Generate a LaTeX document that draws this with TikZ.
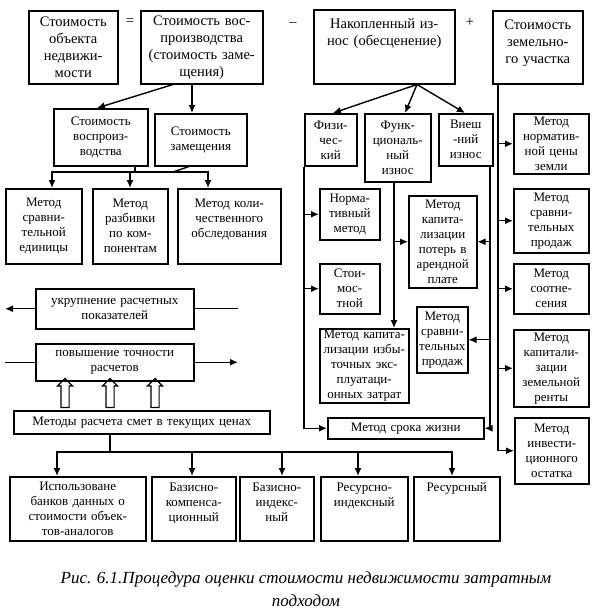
\documentclass[tikz,border=0pt]{standalone}
\usepackage{fontspec}
\setmainfont{Liberation Serif}
\usetikzlibrary{arrows.meta,shapes.arrows}

\begin{document}
\begin{tikzpicture}[x=1pt,y=-1pt,>={Latex[length=8pt,width=7pt]},
  box/.style={draw, line width=1.5pt, inner xsep=2pt, inner ysep=1pt, anchor=north west, align=center, font=\fontsize{13}{15}\selectfont},
  big/.style={font=\fontsize{14.5}{17}\selectfont},
  ttop/.style 2 args={text height=#1, text depth=#2},
  line/.style={line width=1.4pt},
  hollow/.style={single arrow, draw, line width=1.2pt, rotate=90, minimum height=29pt, inner sep=3.5pt, single arrow head extend=3.5pt}]
  \useasboundingbox (0,0) rectangle (604,616);

  % top row
  \node[box,big,text width=85pt,minimum height=73pt] (obj) at (28,10) {Стоимость\\объекта\\недвижи-\\мости};
  \node[box,big,text width=118pt,minimum height=73pt] (vosp) at (140,10) {Стоимость вос-\\производства\\(стоимость заме-\\щения)};
  \node[box,big,text width=137pt,ttop={18pt}{54pt}] (iznos) at (313,9) {Накопленный из-\\нос (обесценение)};
  \node[box,big,text width=86pt,ttop={18pt}{53pt}] (zem) at (492,10) {Стоимость\\земельно-\\го участка};
  \node[big] (opeq) at (130,22) {=};
  \node[big] (opmin) at (293,25) {–};
  \node[big] (opplus) at (470,22) {+};

  % left branch
  \node[box,text width=90pt,minimum height=57pt] (vospr) at (53,108) {Стоимость\\воспроиз-\\водства};
  \node[box,text width=88pt,minimum height=52pt] (zam) at (154,113) {Стоимость\\замещения};
  \node[box,text width=72pt,minimum height=75pt] (m1) at (5,188) {Метод\\сравни-\\тельной\\единицы};
  \node[box,text width=71pt,minimum height=75pt] (m2) at (92,188) {Метод\\разбивки\\по ком-\\понентам};
  \node[box,text width=99pt,ttop={18pt}{55pt}] (m3) at (177,188) {Метод коли-\\чественного\\обследования};

  \draw[line,->] (vosp.south -| 173,0) -- (vospr.north -| 97,0);
  \draw[line,->] (vosp.south -| 192,0) -- (zam.north -| 192,0);
  \coordinate (bus1) at (135,172);
  \draw[line] (vospr.south -| bus1) -- (bus1);
  \draw[line] (zam.south -| 189,0) -- (173,172);
  \foreach \m/\x in {m1/52, m2/130, m3/208}
    \draw[line,->] (bus1) -| (\m.north -| \x,0);

  % estimates
  \coordinate (lft) at (5,0);
  \coordinate (rgt) at (238,0);
  \node[box,text width=154pt,minimum height=40pt] (ukr) at (35,288) {укрупнение расчетных\\показателей};
  \node[box,text width=154pt,minimum height=37pt] (pov) at (35,343) {повышение точности\\расчетов};
  \node[box,text width=252pt,minimum height=23pt] (metody) at (13,410) {Методы расчета смет в текущих ценах};
  \draw[line,<-] (ukr.west -| lft) -- (ukr.west);
  \draw[line] (ukr.east) -- (ukr.east -| rgt);
  \draw[line] (pov.west -| lft) -- (pov.west);
  \draw[line,->] (pov.east) -- (pov.east -| rgt);
  \foreach \x [count=\i] in {65,110,155}
    \node[hollow] (h\i) at (\x,395) {};

  \node[box,text width=132pt,minimum height=64pt] (b1) at (9,476) {Использоване\\банков данных о\\стоимости объек-\\тов-аналогов};
  \node[box,text width=80pt,ttop={14pt}{48pt}] (b2) at (151,476) {Базисно-\\компенса-\\ционный};
  \node[box,text width=70pt,ttop={14pt}{48pt}] (b3) at (239,476) {Базисно-\\индекс-\\ный};
  \node[box,text width=83pt,ttop={14pt}{48pt}] (b4) at (320,476) {Ресурсно-\\индексный};
  \node[box,text width=82pt,ttop={14pt}{48pt}] (b5) at (413,476) {Ресурсный};
  \coordinate (bus2) at (110,452);
  \draw[line] (metody.south -| bus2) -- (bus2);
  \foreach \b/\x in {b1/57, b2/192, b3/282, b4/358, b5/452}
    \draw[line,->] (bus2) -| (\b.north -| \x,0);

  % depreciation
  \node[box,text width=48pt,minimum height=52pt] (fiz) at (304,113) {Физи-\\чес-\\кий};
  \node[box,text width=62pt,minimum height=68pt] (fun) at (364,113) {Функ-\\циональ-\\ный\\износ};
  \node[box,text width=50pt,minimum height=52pt] (vne) at (438,113) {Внеш\\-ний\\износ};
  \foreach \n/\x in {fiz/333, fun/405, vne/465}
    \draw[line,->] (iznos.south -| 417,0) -- (\n.north -| \x,0);

  \node[box,text width=56pt,minimum height=51pt] (norm) at (319,188) {Норма-\\тивный\\метод};
  \node[box,text width=56pt,minimum height=50pt] (stoim) at (319,263) {Стои-\\мос-\\тной};
  \node[box,text width=64pt,minimum height=92pt] (kappot) at (408,195) {Метод\\капита-\\лизации\\потерь в\\арендной\\плате};
  \node[box,text width=85pt,minimum height=74pt] (kapizb) at (319,328) {Метод капита-\\лизации избы-\\точных экс-\\плуатаци-\\онных затрат};
  \node[box,text width=47pt,minimum height=66pt] (sravn) at (416,306) {Метод\\сравни-\\тельных\\продаж};
  \node[box,text width=152pt,minimum height=21pt] (srok) at (327,417) {Метод срока жизни};

  \draw[line,->] (fiz.south west) |- (srok.west);
  \draw[line,->] (fiz.south west |- norm.west) -- (norm.west);
  \draw[line,->] (fiz.south west |- stoim.west) -- (stoim.west);
  \draw[line,->] (fun.south -| 394,0) -- (kapizb.north -| 394,0);
  \draw[line,->] (kappot.west -| 394,0) -- (kappot.west);
  \draw[line,->] (vne.south -| 490,0) |- (srok.east);
  \draw[line,->] (kappot.east -| 490,0) -- (kappot.east);
  \draw[line,->] (sravn.east -| 490,0) -- (sravn.east);

  % land
  \node[box,text width=71pt,minimum height=60pt] (l1) at (513,113) {Метод\\норматив-\\ной цены\\земли};
  \node[box,text width=71pt,minimum height=64pt] (l2) at (513,188) {Метод\\сравни-\\тельных\\продаж};
  \node[box,text width=71pt,minimum height=50pt] (l3) at (513,263) {Метод\\соотне-\\сения};
  \node[box,text width=71pt,minimum height=77pt] (l4) at (513,329) {Метод\\капитали-\\зации\\земельной\\ренты};
  \node[box,text width=70pt,minimum height=66pt] (l5) at (514,417) {Метод\\инвести-\\ционного\\остатка};
  \draw[line,->] (zem.south -| 498,0) |- (l5.west);
  \foreach \l in {l1,l2,l3,l4}
    \draw[line,->] (\l.west -| 498,0) -- (\l.west);

  \node[font=\fontsize{17}{23}\selectfont\itshape, align=center] (cap) at (306,589) {Рис. 6.1.Процедура оценки стоимости недвижимости затратным\\подходом};
\end{tikzpicture}
\end{document}
